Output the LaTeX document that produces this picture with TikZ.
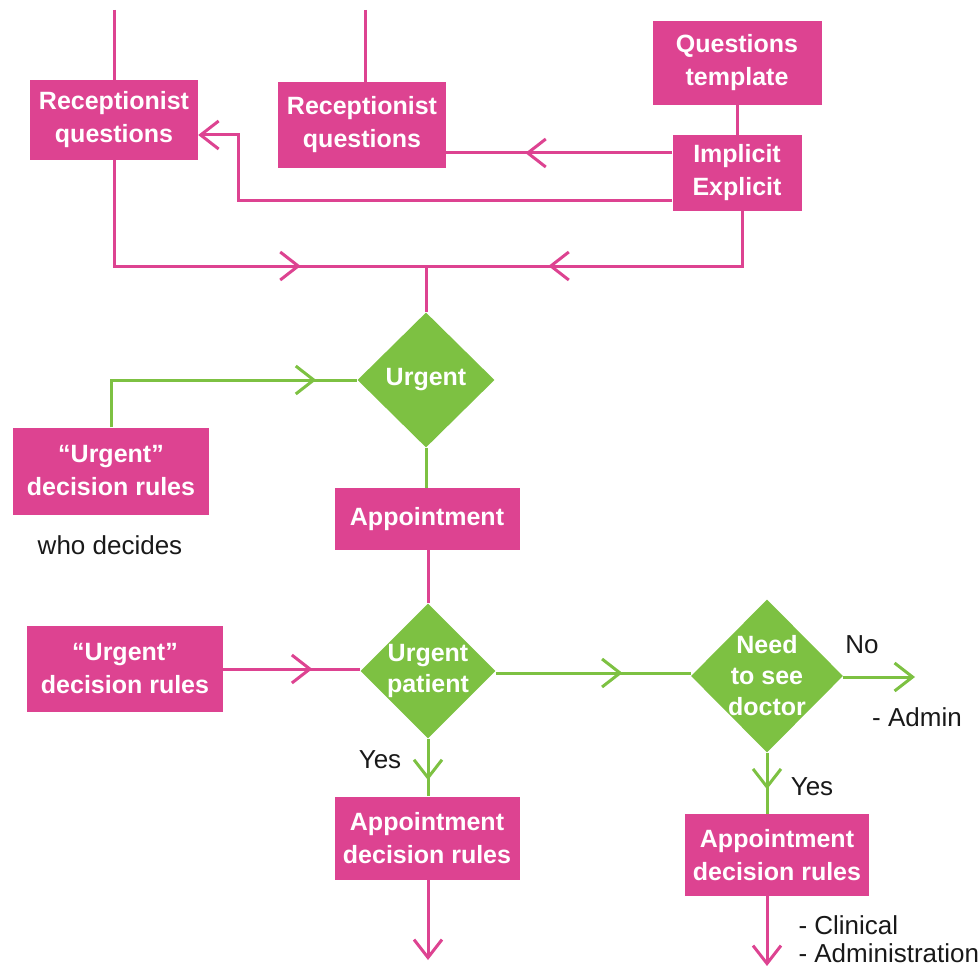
\documentclass[tikz,border=0pt]{standalone}
\usepackage{fontspec}
\setmainfont{Liberation Sans}
\usetikzlibrary{arrows.meta, shapes.geometric, decorations.markings}
\definecolor{boxpink}{RGB}{221,67,145}
\definecolor{leafgreen}{RGB}{125,193,66}
\tikzstyle{block} = [fill=boxpink, text=white, font=\fontsize{25}{33}\selectfont\bfseries, align=center, inner sep=0]
\tikzstyle{choice} = [diamond, fill=leafgreen, inner sep=0]
\tikzstyle{choicetext} = [text=white, font=\fontsize{25}{31}\selectfont\bfseries, align=center]
\tikzstyle{note} = [text=black!90, font=\fontsize{26}{30}\selectfont]
\tikzstyle{pinkline} = [draw=boxpink, line width=3pt]
\tikzstyle{greenline} = [draw=leafgreen, line width=3pt]
\tikzstyle{midarrow} = [postaction={decorate}, decoration={markings, mark=at position #1 with {\arrow{>}}}]

\begin{document}
\begin{tikzpicture}[x=1pt, y=-1pt, >={Straight Barb[length=18pt, width=28pt]}]
        \useasboundingbox (0,0) rectangle (980,971);
        \node [block, minimum width=168, minimum height=80] (recepLeft) at (114,120) {Receptionist\\questions};
        \node [block, minimum width=168, minimum height=86] (recepMid) at (362,125) {Receptionist\\questions};
        \node [block, minimum width=169, minimum height=84] (template) at (737,63) {Questions\\template};
        \node [block, minimum width=129, minimum height=76] (implicit) at (737,173) {Implicit\\Explicit};
        \node [choice, minimum width=137, minimum height=135, label={[choicetext]center:Urgent}] (urgent) at (426,380) {};
        \node [block, minimum width=196, minimum height=87] (rulesTop) at (111,471) {“Urgent”\\decision rules};
        \node [note] (whoDecides) at (110,545) {who decides};
        \node [block, minimum width=185, minimum height=62] (appointment) at (427,519) {Appointment};
        \node [choice, minimum width=135, minimum height=135, label={[choicetext]center:Urgent\\patient}] (urgentPatient) at (428,671) {};
        \node [block, minimum width=196, minimum height=86] (rulesBottom) at (125,669) {“Urgent”\\decision rules};
        \node [choice, minimum width=152, minimum height=153, label={[choicetext]center:Need\\to see\\doctor}] (seeDoctor) at (767,676) {};
        \node [block, minimum width=185, minimum height=83] (apptRulesLeft) at (427,838) {Appointment\\decision rules};
        \node [block, minimum width=184, minimum height=82] (apptRulesRight) at (777,855) {Appointment\\decision rules};

        \node [note] (noLabel) at (862,645) {No};
        \node [note] (adminLabel) at (917,717) {- Admin};
        \node [note] (yesLeft) at (380,760) {Yes};
        \node [note] (yesRight) at (812,787) {Yes};
        \node [note, anchor=west] (clinicalLabel) at (795,925) {- Clinical};
        \node [note, anchor=west] (administrationLabel) at (795,953) {- Administration};

        \coordinate (topLeft) at (114,10);
        \coordinate (topMid) at (365,10);
        \coordinate (merge) at (426,266);
        \coordinate (noEnd) at (915,677);
        \coordinate (outLeft) at (428,960);
        \coordinate (outRight) at (767,966);

        \draw [pinkline] (topLeft) -- (recepLeft.north);
        \draw [pinkline] (topMid) -- ([xshift=3]recepMid.north);
        \draw [pinkline] (template) -- (implicit);
        \draw [pinkline, midarrow=0.65] ([yshift=20]implicit.west) -- ([yshift=20]implicit.west -| recepMid.east);
        \draw [pinkline, ->] ([yshift=-27]implicit.west) -| ([xshift=40, yshift=-15]recepLeft.east) -- ([yshift=-15]recepLeft.east);
        \draw [pinkline, midarrow=0.70] (recepLeft.south) |- (merge);
        \draw [pinkline, midarrow=0.67] ([xshift=5]implicit.south) |- (merge);
        \draw [pinkline] (merge) -- (urgent.north);
        \draw [greenline, midarrow=0.86] (rulesTop.north) |- (urgent.west);
        \draw [greenline] (urgent.south) -- (urgent.south |- appointment.north);
        \draw [pinkline] (appointment.south -| urgentPatient.north) -- (urgentPatient.north);
        \draw [pinkline, midarrow=0.65] (rulesBottom.east) -- (rulesBottom.east -| urgentPatient.west);
        \draw [greenline, midarrow=0.65] ([yshift=-2]urgentPatient.east) -- ([yshift=-2]urgentPatient.east -| seeDoctor.west);
        \draw [greenline, ->] ([yshift=-1]seeDoctor.east) -- (noEnd);
        \draw [greenline, midarrow=0.72] (urgentPatient.south) -- (urgentPatient.south |- apptRulesLeft.north);
        \draw [pinkline, ->] (urgentPatient.south |- apptRulesLeft.south) -- (outLeft);
        \draw [greenline, midarrow=0.6] (seeDoctor.south) -- (seeDoctor.south |- apptRulesRight.north);
        \draw [pinkline, ->] (seeDoctor.south |- apptRulesRight.south) -- (outRight);
\end{tikzpicture}
\end{document}
